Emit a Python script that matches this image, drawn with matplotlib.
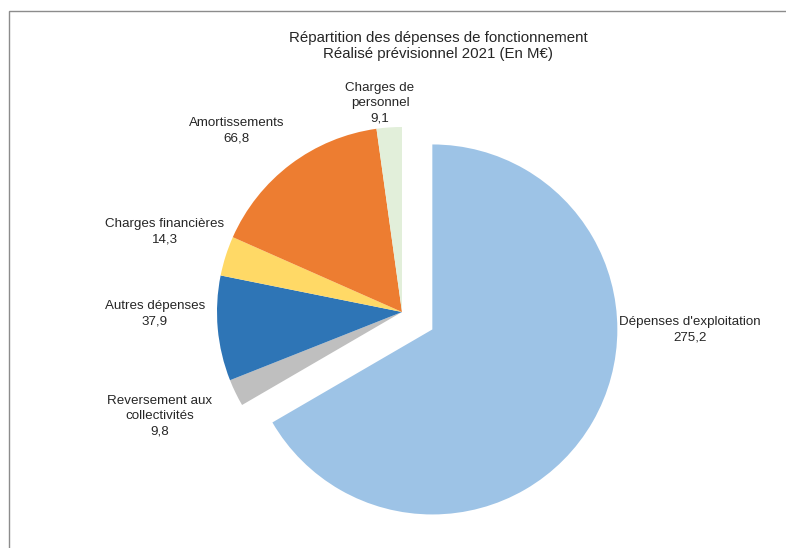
import matplotlib
matplotlib.use("Agg")
import matplotlib.pyplot as plt
from matplotlib.patches import Rectangle

categories = ["Dépenses d'exploitation", "Reversement aux\ncollectivités", "Autres dépenses",
              "Charges financières", "Amortissements", "Charges de\npersonnel"]
values = [275.2, 9.8, 37.9, 14.3, 66.8, 9.1]
value_labels = ["275,2", "9,8", "37,9", "14,3", "66,8", "9,1"]
colors = ["#9DC3E6", "#BFBFBF", "#2E75B6", "#FFD966", "#ED7D31", "#E2EFDA"]
explode = [35, 0, 0, 0, 0, 0]

# label positions (layout, in pixel-like axes units, y from bottom)
label_pos = [(690, 548 - 330), (160, 548 - 416), (155, 548 - 314),
             (165, 548 - 232), (237, 548 - 131), (380, 548 - 103)]

plt.rcParams['font.family'] = ['Liberation Sans', 'DejaVu Sans']
fig = plt.figure(figsize=(7.86, 5.48), dpi=100)
ax = fig.add_axes([0, 0, 1, 1])

# frame
fig.patches.append(Rectangle((9 / 786, -0.1), 1.2, 1.1 - 11 / 548, transform=fig.transFigure,
                             fill=False, edgecolor="#8C8C8C", linewidth=1.0))

wedges, _ = ax.pie(values, colors=colors, explode=explode, startangle=90, counterclock=False,
                   center=(402, 548 - 312), radius=185, wedgeprops=dict(linewidth=0),
                   frame=True)
ax.set_xlim(0, 786)
ax.set_ylim(0, 548)
ax.set_aspect('equal')
ax.axis('off')

for cat, vl, (x, y) in zip(categories, value_labels, label_pos):
    ax.text(x, y, cat + "\n" + vl, ha='center', va='center', fontsize=9.6, color="#262626",
            linespacing=1.35)

ax.text(438, 548 - 46, "Répartition des dépenses de fonctionnement\nRéalisé prévisionnel 2021 (En M€)",
        ha='center', va='center', fontsize=10.8, color="#262626", linespacing=1.15)

fig.savefig("out.png", dpi=100)
